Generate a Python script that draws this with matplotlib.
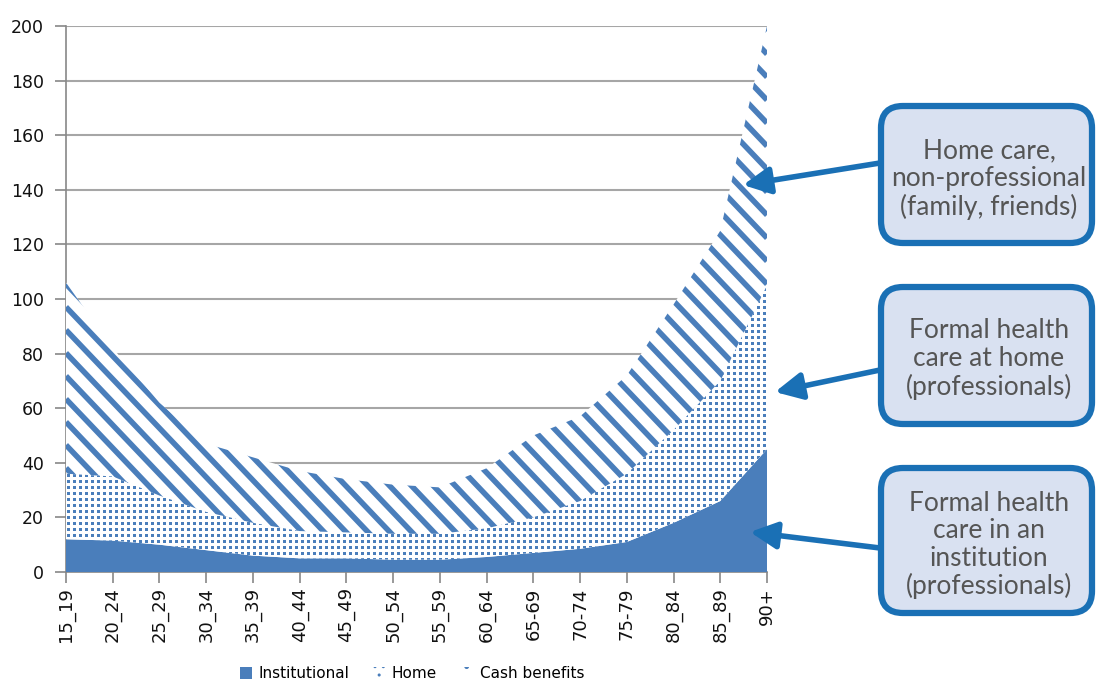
import numpy as np
import matplotlib
matplotlib.use("Agg")
import matplotlib.pyplot as plt
from matplotlib.patches import Patch, PathPatch, FancyBboxPatch, FancyArrowPatch
from matplotlib.collections import LineCollection

# ---------------- data ----------------
age_groups = ["15_19", "20_24", "25_29", "30_34", "35_39", "40_44", "45_49", "50_54",
              "55_59", "60_64", "65-69", "70-74", "75-79", "80_84", "85_89", "90+"]
institutional = [12, 11.5, 10, 8, 6, 5, 5, 4.5, 4.5, 5.5, 7, 8.5, 11, 18, 26, 45]
home = [24, 23.5, 18, 14, 12, 10, 9.5, 9.5, 9.5, 10.5, 13, 17.5, 25, 34, 44, 60]
cash_benefits = [70, 47, 34, 25, 24, 22, 19.5, 18, 17, 22, 30, 31, 36, 46, 55, 95]
series_names = ["Institutional", "Home", "Cash benefits"]
yticks = list(range(0, 201, 20))

annotations = [
    "Home care,\nnon-professional\n(family, friends)",
    "Formal health\ncare at home\n(professionals)",
    "Formal health\ncare in an\ninstitution\n(professionals)",
]

# ---------------- style ----------------
BLUE = "#4a7ebb"
BOX_EDGE = "#1a70b5"
BOX_FACE = "#d9e1f1"
plt.rcParams["font.family"] = ["DejaVu Sans"]

W, H = 1097, 682
fig = plt.figure(figsize=(W / 100, H / 100), dpi=100)
ax_l, ax_r, ax_t, ax_b = 66, 767, 26, 572
ax = fig.add_axes([ax_l / W, (H - ax_b) / H, (ax_r - ax_l) / W, (ax_b - ax_t) / H])
axw, axh = ax_r - ax_l, ax_b - ax_t

x = np.arange(len(age_groups))
inst = np.array(institutional, float)
hm = np.array(home, float)
cb = np.array(cash_benefits, float)
y1 = inst
y2 = inst + hm
y3 = y2 + cb

ax.fill_between(x, 0, y1, facecolor=BLUE, edgecolor="none", linewidth=0, zorder=3)
pc_home = ax.fill_between(x, y1, y2, facecolor="white", edgecolor="none", linewidth=0, zorder=3)
pc_cash = ax.fill_between(x, y2, y3, facecolor="white", edgecolor="none", linewidth=0, zorder=3)


def clip_patch(pc):
    p = PathPatch(pc.get_paths()[0], transform=ax.transData, facecolor="none",
                  edgecolor="none")
    ax.add_patch(p)
    return p


# dotted texture for the Home area (pixel-aligned grid of small squares)
home_clip = clip_patch(pc_home)
step = 6
gx, gy = np.meshgrid(np.arange(1.5, axw, step), np.arange(1.5, axh, step))
dots = ax.scatter(gx.ravel() / axw, gy.ravel() / axh, s=(3 * 0.72) ** 2, marker="s",
                  c=BLUE, linewidths=0, transform=ax.transAxes, zorder=4,
                  antialiased=False)
dots.set_clip_path(home_clip)

# diagonal stripes for the Cash benefits area
cash_clip = clip_patch(pc_cash)
slope_px = 1.05
period_px = 23.0
segs = []
for c in np.arange(-2 * axh, 3 * axh, period_px):
    xs = np.array([0, axw])
    ys = c - slope_px * xs
    segs.append([(xs[0] / axw, ys[0] / axh), (xs[1] / axw, ys[1] / axh)])
lc = LineCollection(segs, colors=BLUE, linewidths=4.0, transform=ax.transAxes, zorder=4)
ax.add_collection(lc)
lc.set_clip_path(cash_clip)

ax.set_xlim(0, len(age_groups) - 1)
ax.set_ylim(0, 200)
ax.set_yticks(yticks)
ax.set_xticks(x)
ax.set_xticklabels(age_groups, rotation=90, fontsize=13)
ax.tick_params(axis="y", labelsize=12.5, length=8, width=1.2, color="#888888", pad=8)
ax.tick_params(axis="x", length=8, width=1.2, color="#888888", pad=3)
for lab in ax.get_xticklabels() + ax.get_yticklabels():
    lab.set_color("#111111")
ax.grid(axis="y", color="#a6a6a6", linewidth=1.5, zorder=1)
ax.set_axisbelow(True)
for s in ["top", "right"]:
    ax.spines[s].set_visible(False)
for s in ["left", "bottom"]:
    ax.spines[s].set_color("#888888")
    ax.spines[s].set_linewidth(1.2)

# legend
plt.rcParams["hatch.linewidth"] = 1.0
handles = [
    Patch(facecolor=BLUE, edgecolor=BLUE, linewidth=0),
    Patch(facecolor="white", edgecolor=BLUE, hatch="..", linewidth=0),
    Patch(facecolor="white", edgecolor=BLUE, hatch=".", linewidth=0),
]
fig.legend(handles, series_names, loc="center", bbox_to_anchor=(412 / W, 8 / H),
           ncol=3, frameon=False, fontsize=11, handlelength=0.8, handleheight=0.8,
           handletextpad=0.4, columnspacing=1.6)

# annotation boxes (figure pixels, bottom-left origin)
boxes = [(881, 439, 211, 137), (881, 258, 211, 137), (881, 69, 211, 145)]
centers = [(989, H - 179), (989, H - 359), (989, H - 545)]
arrows = [((880, H - 163), (743, H - 185)),
          ((880, H - 370), (775, H - 392)),
          ((880, H - 548), (750, H - 532))]
for (bx, by, bw, bh), (cx, cy), (tail, head), txt in zip(boxes, centers, arrows, annotations):
    box = FancyBboxPatch((bx / 100, by / 100), bw / 100, bh / 100,
                         boxstyle="round,pad=0,rounding_size=0.22",
                         transform=fig.dpi_scale_trans, facecolor=BOX_FACE,
                         edgecolor=BOX_EDGE, linewidth=4.5, zorder=5)
    fig.add_artist(box)
    fig.text(cx / W, cy / H, txt, ha="center", va="center", fontsize=19,
             family=["Lato", "DejaVu Sans"], color="#555555", linespacing=1.12, zorder=6)
    fig.add_artist(FancyArrowPatch(
        posA=tail, posB=head, transform=None,
        arrowstyle="-|>,head_length=0.9,head_width=0.45", mutation_scale=18,
        color=BOX_EDGE, linewidth=4, shrinkA=0, shrinkB=0, zorder=4))

fig.savefig("out.png", dpi=100)
